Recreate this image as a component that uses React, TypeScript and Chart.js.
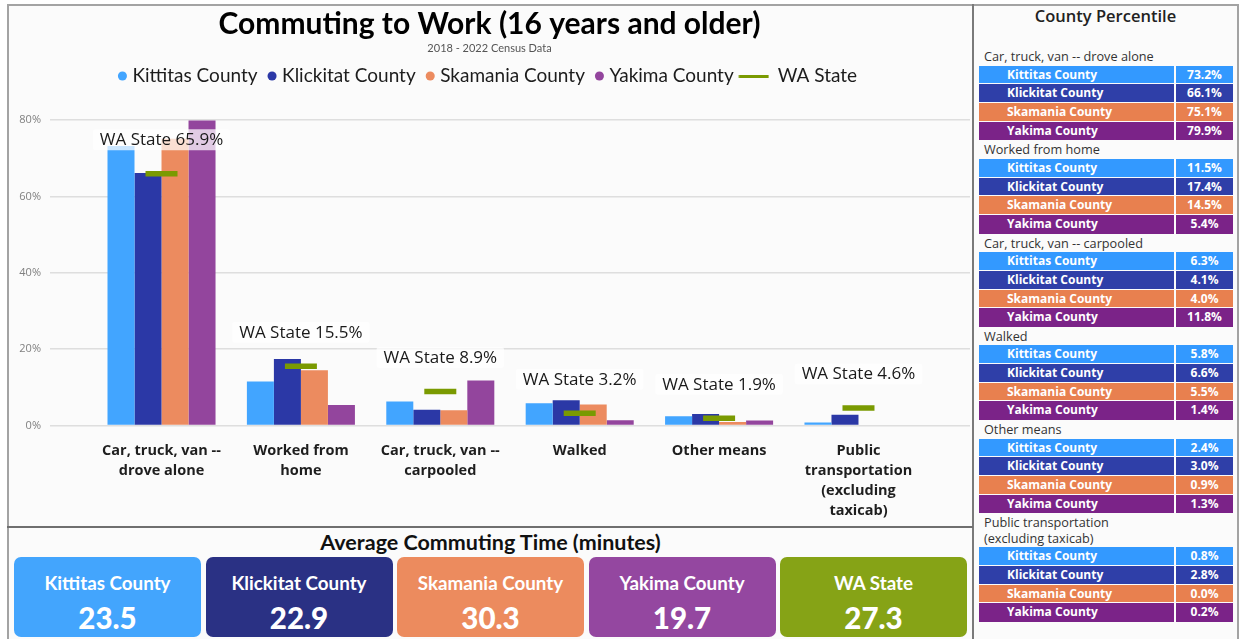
import React, { useEffect, useRef } from 'react';
import { Chart, registerables } from 'chart.js';
Chart.register(...registerables);

// ---------- DATA ----------
const categories: string[][] = [
  ['Car, truck, van --', 'drove alone'],
  ['Worked from', 'home'],
  ['Car, truck, van --', 'carpooled'],
  ['Walked'],
  ['Other means'],
  ['Public', 'transportation', '(excluding', 'taxicab)'],
];
const tableCategories: string[][] = [
  ['Car, truck, van -- drove alone'],
  ['Worked from home'],
  ['Car, truck, van -- carpooled'],
  ['Walked'],
  ['Other means'],
  ['Public transportation', '(excluding taxicab)'],
];
const counties = ['Kittitas County', 'Klickitat County', 'Skamania County', 'Yakima County'];
const kittitas = [73.2, 11.5, 6.3, 5.8, 2.4, 0.8];
const klickitat = [66.1, 17.4, 4.1, 6.6, 3.0, 2.8];
const skamania = [75.1, 14.5, 4.0, 5.5, 0.9, 0.0];
const yakima = [79.9, 5.4, 11.8, 1.4, 1.3, 0.2];
const waState = [65.9, 15.5, 8.9, 3.2, 1.9, 4.6];
const yTickValues = [0, 20, 40, 60, 80];
const commuteLabels = ['Kittitas County', 'Klickitat County', 'Skamania County', 'Yakima County', 'WA State'];
const commuteMinutes = [23.5, 22.9, 30.3, 19.7, 27.3];

// ---------- STYLES ----------
const barColors = ['#42A5FF', '#2B38A6', '#EC8B5F', '#93459D'];
const tableColors = ['#3399FF', '#2F3FA8', '#E8804F', '#7B2388'];
const cardColors = ['#43A5FD', '#2A3184', '#EC8B5E', '#9447A0', '#86A316'];
const waColor = '#7A9A01';
const countySeries = [kittitas, klickitat, skamania, yakima];
const legendFontSize = 19;

export default function App() {
  const ref = useRef<HTMLCanvasElement>(null);

  useEffect(() => {
    const canvas = ref.current!;

    // legend line image for WA State
    const mctx = document.createElement('canvas').getContext('2d')!;
    mctx.font = `${legendFontSize}px Lato`;
    const spaceW = mctx.measureText(' ').width || 4;
    const nSpaces = Math.max(1, Math.round(20 / spaceW));
    const img = document.createElement('canvas');
    img.width = 42;
    img.height = 3;
    const ictx = img.getContext('2d')!;
    ictx.fillStyle = waColor;
    ictx.fillRect(11.5, 0, 30, 3);

    const legendHeightPlugin = {
      id: 'legendHeight',
      beforeLayout(chart: any) {
        const lg = chart.legend;
        if (lg && !lg._patched) {
          const orig = lg.fit;
          lg.fit = function () {
            orig.call(this);
            this.height = 67.5;
          };
          lg._patched = true;
        }
      },
    };

    const waLabelPlugin = {
      id: 'waLabels',
      afterDatasetsDraw(chart: any) {
        const meta = chart.getDatasetMeta(4);
        const ctx = chart.ctx;
        ctx.save();
        ctx.font = '17px "Open Sans"';
        ctx.textAlign = 'center';
        ctx.textBaseline = 'middle';
        meta.data.forEach((pt: any, i: number) => {
          const text = `WA State ${waState[i].toFixed(1)}%`;
          const w = ctx.measureText(text).width;
          const cy = pt.y - 34;
          ctx.fillStyle = 'rgba(255,255,255,0.72)';
          ctx.beginPath();
          (ctx as any).roundRect(pt.x - w / 2 - 7, cy - 10.5, w + 14, 21, 3);
          ctx.fill();
          ctx.fillStyle = '#1a1a1a';
          ctx.fillText(text, pt.x, cy + 0.5);
        });
        ctx.restore();
      },
    };

    const chart = new Chart(canvas, {
      type: 'bar',
      data: {
        datasets: [
          ...counties.map((name, j) => ({
            type: 'bar' as const,
            label: name,
            data: countySeries[j].map((v, i) => ({ x: i, y: v })),
            backgroundColor: barColors[j],
            borderWidth: 0,
            barPercentage: 1,
            categoryPercentage: 0.775,
            order: 1,
          })),
          {
            type: 'line' as const,
            label: 'WA State',
            data: waState.map((v, i) => ({ x: i, y: v })),
            showLine: false,
            pointStyle: 'line',
            pointRadius: 16,
            pointHoverRadius: 16,
            pointBorderWidth: 5.5,
            borderColor: waColor,
            backgroundColor: waColor,
            order: 0,
          } as any,
        ],
      },
      options: {
        animation: false,
        responsive: true,
        maintainAspectRatio: false,
        layout: { autoPadding: false, padding: { left: 0, right: 2, top: 0, bottom: 0 } },
        plugins: {
          tooltip: { enabled: false },
          title: {
            display: true,
            text: 'Commuting to Work (16 years and older)',
            color: '#000',
            font: { family: 'Lato', size: 30, weight: 'bold', lineHeight: 1.0 },
            padding: { top: 3, bottom: 3 },
          },
          subtitle: {
            display: true,
            text: '2018 - 2022 Census Data',
            color: '#555',
            font: { family: 'Lato', size: 11, lineHeight: 1 },
            padding: { top: 1, bottom: -1.5 },
          },
          legend: {
            display: true,
            position: 'top',
            labels: {
              usePointStyle: true,
              boxWidth: 1,
              boxHeight: 6.4,
              padding: 14,
              color: '#1c1c1c',
              font: { family: 'Lato', size: legendFontSize },
              sort: (a: any, b: any) => a.datasetIndex - b.datasetIndex,
              generateLabels: (ch: any) => {
                const items = (Chart.defaults.plugins.legend.labels as any).generateLabels(ch);
                items.forEach((it: any) => {
                  if (it.datasetIndex === 4) {
                    it.pointStyle = img;
                    it.text = ' '.repeat(nSpaces) + 'WA State';
                  } else {
                    it.pointStyle = 'circle';
                    it.lineWidth = 0;
                  }
                });
                return items;
              },
            },
          },
        },
        scales: {
          x: {
            type: 'linear',
            min: -0.8,
            max: 5.8,
            offset: false,
            grid: { display: false, drawTicks: false },
            border: { display: false },
            afterFit: (scale: any) => {
              scale.height = 100.5;
              scale.paddingLeft = 0;
              scale.paddingRight = 0;
            },
            ticks: {
              stepSize: 1,
              includeBounds: false,
              autoSkip: false,
              maxRotation: 0,
              minRotation: 0,
              padding: 15,
              color: '#1e1e1e',
              font: { family: 'Open Sans', size: 14.5, weight: 'bold', lineHeight: '20px' } as any,
              callback: (v: any) => {
                const n = Number(v);
                return Number.isInteger(n) && n >= 0 && n < categories.length ? categories[n] : '';
              },
            },
          },
          y: {
            min: yTickValues[0],
            max: yTickValues[yTickValues.length - 1],
            afterFit: (scale: any) => {
              scale.width = 41;
            },
            afterBuildTicks: (scale: any) => {
              scale.ticks = yTickValues.map((v) => ({ value: v }));
            },
            grid: { color: '#dedede', lineWidth: 1.5, drawTicks: false },
            border: { display: false },
            ticks: {
              padding: 9,
              color: '#808080',
              font: { family: 'Open Sans', size: 11 },
              callback: (v: any) => `${v}%`,
            },
          },
        },
      } as any,
      plugins: [legendHeightPlugin, waLabelPlugin],
    });

    return () => chart.destroy();
  }, []);

  const panelBg = '#fbfbfb';

  return (
    <div style={{ position: 'absolute', left: 0, top: 0, width: 1241, height: 639, overflow: 'hidden', background: '#fff' }}>
      {/* panel backgrounds */}
      <div style={{ position: 'absolute', left: 9, top: 6, width: 963, height: 633, background: panelBg }} />
      <div style={{ position: 'absolute', left: 974, top: 6, width: 263, height: 633, background: panelBg }} />

      {/* chart */}
      <div style={{ position: 'absolute', left: 9, top: 6, width: 963, height: 520 }}>
        <canvas ref={ref} />
      </div>

      {/* frame lines */}
      <div style={{ position: 'absolute', left: 7, top: 4, width: 1232, height: 2, background: '#a3a3a3' }} />
      <div style={{ position: 'absolute', left: 7, top: 4, width: 2, height: 635, background: '#a3a3a3' }} />
      <div style={{ position: 'absolute', left: 1237, top: 4, width: 2, height: 635, background: '#a3a3a3' }} />
      <div style={{ position: 'absolute', left: 972, top: 4, width: 2, height: 635, background: '#7a7a7a' }} />
      <div style={{ position: 'absolute', left: 7, top: 526, width: 966, height: 2, background: '#6f6f6f' }} />

      {/* bottom: average commuting time */}
      <div
        style={{
          position: 'absolute', left: 9, top: 529, width: 963, height: 26, lineHeight: '26px',
          textAlign: 'center', fontFamily: 'Lato', fontWeight: 700, fontSize: 21.5, color: '#111',
        }}
      >
        Average Commuting Time (minutes)
      </div>
      {commuteLabels.map((name, i) => (
        <div
          key={name}
          style={{
            position: 'absolute', left: 14 + i * 191.5, top: 557, width: 187, height: 80,
            borderRadius: 7, background: cardColors[i], color: '#fff', fontFamily: 'Lato', textAlign: 'center',
          }}
        >
          <div style={{ position: 'absolute', left: 0, right: 0, top: 13, height: 26, lineHeight: '26px', fontSize: 18.8, fontWeight: 700 }}>
            {name}
          </div>
          <div style={{ position: 'absolute', left: 0, right: 0, top: 43, height: 36, lineHeight: '36px', fontSize: 29.5, fontWeight: 900 }}>
            {commuteMinutes[i].toFixed(1)}
          </div>
        </div>
      ))}

      {/* right: county percentile */}
      <div style={{ position: 'absolute', left: 974, top: 6, width: 263, fontFamily: 'Open Sans' }}>
        <div style={{ height: 41, lineHeight: '20px', textAlign: 'center', fontWeight: 600, fontSize: 16.5, color: '#222' }}>
          County Percentile
        </div>
        {tableCategories.map((lines, gi) => (
          <div key={gi}>
            <div
              style={{
                height: lines.length > 1 ? 34 : 18.6, lineHeight: lines.length > 1 ? '16px' : '18.6px',
                paddingLeft: 10, fontSize: 12.7, fontWeight: 500, color: '#333', whiteSpace: 'nowrap',
                paddingTop: lines.length > 1 ? 1 : 0, boxSizing: 'border-box',
              }}
            >
              {lines.map((l, k) => (
                <div key={k}>{l}</div>
              ))}
            </div>
            {counties.map((c, j) => (
              <div key={c} style={{ position: 'relative', height: 18.68 }}>
                <div
                  style={{
                    position: 'absolute', left: 5, top: 0, width: 195, height: j < 3 ? 17.68 : 18.68,
                    background: tableColors[j], color: '#fff', fontWeight: 700, fontSize: 12,
                    lineHeight: '18px', paddingLeft: 28, boxSizing: 'border-box', whiteSpace: 'nowrap',
                  }}
                >
                  {c}
                </div>
                <div
                  style={{
                    position: 'absolute', left: 202, top: 0, width: 57, height: j < 3 ? 17.68 : 18.68,
                    background: tableColors[j], color: '#fff', fontWeight: 700, fontSize: 12,
                    lineHeight: '18px', textAlign: 'center', whiteSpace: 'nowrap',
                  }}
                >
                  {countySeries[j][gi].toFixed(1)}%
                </div>
              </div>
            ))}
          </div>
        ))}
      </div>
    </div>
  );
}
